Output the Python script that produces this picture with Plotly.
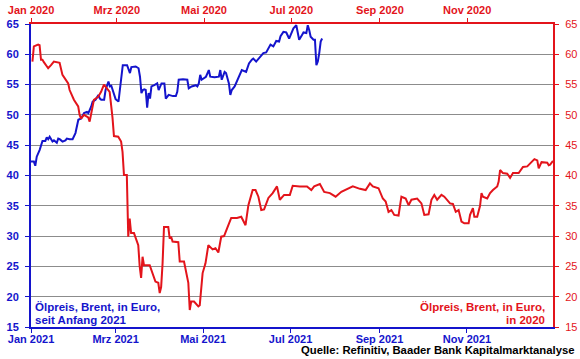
import plotly.graph_objects as go

# ---- Data: Brent in Euro, 2020 (red, top/right axes) ----
dates_2020 = [
    "2020-01-02","2020-01-03","2020-01-06","2020-01-07","2020-01-08","2020-01-09","2020-01-10","2020-01-13",
    "2020-01-15","2020-01-17","2020-01-21","2020-01-23","2020-01-27","2020-01-28","2020-01-31","2020-02-03",
    "2020-02-04","2020-02-05","2020-02-07","2020-02-10","2020-02-11","2020-02-13","2020-02-14","2020-02-17",
    "2020-02-19","2020-02-21","2020-02-24","2020-02-25","2020-02-27","2020-02-28","2020-03-02","2020-03-04",
    "2020-03-05","2020-03-06","2020-03-08","2020-03-09","2020-03-10","2020-03-11","2020-03-13","2020-03-14",
    "2020-03-16","2020-03-17","2020-03-18","2020-03-19","2020-03-20","2020-03-24","2020-03-28","2020-03-30",
    "2020-03-31","2020-04-01","2020-04-02","2020-04-03","2020-04-06","2020-04-07","2020-04-08","2020-04-09",
    "2020-04-13","2020-04-14","2020-04-17","2020-04-20","2020-04-21","2020-04-22","2020-04-24","2020-04-27",
    "2020-04-28","2020-04-30","2020-05-02","2020-05-04","2020-05-07","2020-05-09","2020-05-11","2020-05-13",
    "2020-05-15","2020-05-18","2020-05-20","2020-05-24","2020-05-27","2020-05-30","2020-06-01","2020-06-04",
    "2020-06-06","2020-06-08","2020-06-10","2020-06-12","2020-06-15","2020-06-18","2020-06-21","2020-06-23",
    "2020-06-26","2020-06-30","2020-07-02","2020-07-07","2020-07-12","2020-07-15","2020-07-17","2020-07-21",
    "2020-07-24","2020-07-28","2020-08-01","2020-08-05","2020-08-09","2020-08-13","2020-08-18","2020-08-22",
    "2020-08-25","2020-08-27","2020-08-31","2020-09-03","2020-09-05","2020-09-07","2020-09-09","2020-09-11",
    "2020-09-14","2020-09-16","2020-09-19","2020-09-21","2020-09-23","2020-09-27","2020-09-30","2020-10-02",
    "2020-10-05","2020-10-07","2020-10-09","2020-10-11","2020-10-14","2020-10-16","2020-10-20","2020-10-22",
    "2020-10-24","2020-10-26","2020-10-28","2020-10-30","2020-11-02","2020-11-03","2020-11-05","2020-11-06",
    "2020-11-08","2020-11-10","2020-11-11","2020-11-12","2020-11-15","2020-11-17","2020-11-19","2020-11-22",
    "2020-11-23","2020-11-24","2020-11-26","2020-11-29","2020-12-01","2020-12-03","2020-12-07","2020-12-10",
    "2020-12-13","2020-12-15","2020-12-18","2020-12-20","2020-12-21","2020-12-23","2020-12-27","2020-12-28",
    "2020-12-29","2020-12-31",
]
brent_2020 = [
    58.8, 61.3, 61.6, 61.5, 59.1, 59.1, 58.7, 57.7,
    58.2, 58.8, 58.6, 56.6, 55.2, 54.1, 52.5, 51.4,
    50.0, 49.4, 50.0, 49.6, 48.9, 51.4, 52.5, 53.0,
    53.8, 55.0, 54.1, 53.8, 49.5, 46.5, 46.4, 45.6,
    43.9, 40.1, 40.1, 29.9, 32.9, 30.5, 30.5, 29.9,
    28.5, 25.0, 23.1, 26.6, 25.2, 25.2, 22.5, 22.3,
    20.6, 21.6, 25.5, 31.5, 31.5, 29.6, 29.9, 29.1,
    29.0, 25.8, 25.8, 22.3, 17.8, 19.2, 19.2, 18.4,
    18.6, 23.9, 25.5, 28.5, 27.8, 28.0, 27.3, 29.9,
    30.0, 31.8, 33.0, 33.0, 33.2, 31.8, 35.1, 37.6,
    37.6, 36.5, 34.3, 34.4, 36.3, 37.1, 38.2, 36.0,
    36.8, 36.8, 38.3, 38.2, 38.2, 37.6, 38.2, 38.6,
    37.3, 37.1, 36.5, 37.3, 37.8, 38.2, 37.8, 37.6,
    38.7, 38.2, 37.9, 36.2, 35.7, 34.0, 34.3, 33.5,
    33.4, 36.5, 36.2, 35.1, 36.0, 36.2, 35.4, 33.5,
    33.6, 36.0, 36.8, 36.0, 36.8, 36.5, 35.4, 35.3,
    34.0, 34.3, 32.4, 32.1, 32.1, 33.5, 34.6, 33.2,
    33.2, 35.0, 37.1, 36.5, 36.2, 37.1, 37.6, 38.2,
    39.0, 40.9, 40.4, 40.3, 39.6, 40.4, 40.4, 41.4,
    41.5, 42.0, 42.7, 42.5, 41.2, 42.2, 42.1, 41.7,
    41.8, 42.4,
]

# ---- Data: Brent in Euro, since start of 2021 (blue, bottom/left axes) ----
dates_2021 = [
    "2021-01-01","2021-01-03","2021-01-04","2021-01-05","2021-01-07","2021-01-08","2021-01-09","2021-01-11",
    "2021-01-12","2021-01-13","2021-01-14","2021-01-16","2021-01-17","2021-01-19","2021-01-20","2021-01-21",
    "2021-01-23","2021-01-25","2021-01-26","2021-01-28","2021-01-30","2021-02-01","2021-02-02","2021-02-03",
    "2021-02-05","2021-02-07","2021-02-09","2021-02-10","2021-02-12","2021-02-13","2021-02-15","2021-02-17",
    "2021-02-18","2021-02-19","2021-02-21","2021-02-22","2021-02-24","2021-02-25","2021-02-26","2021-02-28",
    "2021-03-01","2021-03-03","2021-03-04","2021-03-05","2021-03-06","2021-03-09","2021-03-10","2021-03-11",
    "2021-03-12","2021-03-15","2021-03-17","2021-03-18","2021-03-19","2021-03-20","2021-03-21","2021-03-22",
    "2021-03-23","2021-03-24","2021-03-25","2021-03-26","2021-03-28","2021-03-30","2021-03-31","2021-04-02",
    "2021-04-04","2021-04-05","2021-04-07","2021-04-10","2021-04-12","2021-04-13","2021-04-14","2021-04-17",
    "2021-04-20","2021-04-21","2021-04-23","2021-04-26","2021-04-27","2021-04-28","2021-04-29","2021-04-30",
    "2021-05-03","2021-05-05","2021-05-06","2021-05-09","2021-05-12","2021-05-13","2021-05-14","2021-05-15",
    "2021-05-16","2021-05-17","2021-05-19","2021-05-20","2021-05-21","2021-05-23","2021-05-25","2021-05-27",
    "2021-05-28","2021-05-31","2021-06-02","2021-06-04","2021-06-05","2021-06-07","2021-06-09","2021-06-12",
    "2021-06-14","2021-06-16","2021-06-17","2021-06-19","2021-06-21","2021-06-23","2021-06-24","2021-06-26",
    "2021-06-28","2021-06-30","2021-07-01","2021-07-03","2021-07-05","2021-07-06","2021-07-07","2021-07-09",
    "2021-07-10","2021-07-12","2021-07-13","2021-07-14","2021-07-15","2021-07-17","2021-07-18","2021-07-19",
    "2021-07-20","2021-07-21","2021-07-22","2021-07-23",
]
brent_2021 = [
    42.3, 42.3, 41.6, 43.1, 44.2, 45.0, 45.7, 45.7,
    46.3, 46.0, 46.4, 45.6, 45.8, 45.4, 46.1, 46.0,
    45.6, 45.8, 46.1, 46.0, 46.0, 47.0, 48.3, 49.2,
    49.4, 50.3, 50.5, 50.3, 51.4, 52.2, 52.5, 53.3,
    52.7, 52.5, 52.5, 54.1, 55.5, 54.7, 54.8, 53.3,
    52.6, 52.2, 54.1, 56.9, 58.2, 58.2, 57.4, 56.9,
    57.9, 58.0, 57.7, 56.3, 53.6, 54.1, 54.2, 54.1,
    51.2, 53.6, 52.7, 54.7, 54.9, 55.2, 54.1, 55.2,
    55.2, 52.7, 53.3, 53.1, 53.1, 53.8, 55.8, 55.9,
    55.8, 54.4, 54.7, 54.9, 54.7, 55.2, 56.6, 55.8,
    56.3, 57.4, 56.3, 56.2, 56.3, 57.4, 55.8, 56.6,
    57.1, 56.9, 55.2, 53.3, 54.1, 54.7, 55.8, 56.6,
    57.4, 57.1, 58.5, 59.1, 59.3, 58.8, 59.3, 60.2,
    60.3, 61.2, 61.6, 61.3, 62.2, 62.1, 63.0, 63.7,
    63.6, 62.6, 63.2, 64.3, 64.8, 63.7, 62.4, 63.2,
    63.6, 63.5, 64.8, 64.0, 62.9, 62.4, 62.4, 58.2,
    58.8, 60.2, 62.1, 62.6,
]

# ---- Tick labels ----
ticks_2020 = ["2020-01-01", "2020-03-01", "2020-05-01", "2020-07-01", "2020-09-01", "2020-11-01"]
labels_2020 = ["Jan 2020", "Mrz 2020", "Mai 2020", "Jul 2020", "Sep 2020", "Nov 2020"]
ticks_2021 = ["2021-01-01", "2021-03-01", "2021-05-01", "2021-07-01", "2021-09-01", "2021-11-01"]
labels_2021 = ["Jan 2021", "Mrz 2021", "Mai 2021", "Jul 2021", "Sep 2021", "Nov 2021"]
y_ticks = [15, 20, 25, 30, 35, 40, 45, 50, 55, 60, 65]

BLUE = "#1414CC"
RED = "#E3141B"
FONT = "Liberation Sans"

fig = go.Figure()
fig.add_trace(go.Scatter(
    x=dates_2020, y=brent_2020, mode="lines", xaxis="x2", yaxis="y2",
    line=dict(color=RED, width=2), name="2020", showlegend=False,
))
fig.add_trace(go.Scatter(
    x=dates_2021, y=brent_2021, mode="lines", xaxis="x", yaxis="y",
    line=dict(color=BLUE, width=2), name="2021", showlegend=False,
))

fig.update_layout(
    template="none",
    width=580, height=359,
    margin=dict(l=31, r=27, t=24, b=32, autoexpand=False),
    paper_bgcolor="white", plot_bgcolor="white",
    font=dict(family=FONT),
    xaxis=dict(
        range=["2021-01-01", "2021-12-31"], tickvals=ticks_2021, ticktext=labels_2021,
        tickfont=dict(color=BLUE, size=11, family=FONT, weight="bold"),
        showline=True, linecolor=BLUE, linewidth=2, ticks="outside", ticklen=4,
        tickcolor=BLUE, showgrid=False, zeroline=False, automargin=False,
        ticklabelstandoff=-3,
    ),
    xaxis2=dict(
        range=["2020-01-01", "2020-12-31"], tickvals=ticks_2020, ticktext=labels_2020,
        overlaying="x", side="top", anchor="y",
        tickfont=dict(color=RED, size=11, family=FONT, weight="bold"),
        showline=True, linecolor=RED, linewidth=2, ticks="outside", ticklen=4,
        tickcolor=RED, showgrid=False, zeroline=False, automargin=False,
    ),
    yaxis=dict(
        range=[15, 65], tickvals=y_ticks,
        tickfont=dict(color=BLUE, size=11, family=FONT, weight="bold"),
        showline=True, linecolor=BLUE, linewidth=2, ticks="outside", ticklen=4,
        tickcolor=BLUE, showgrid=True, gridcolor="#8C8C8C", gridwidth=1, zeroline=False,
        automargin=False, ticklabelstandoff=4,
    ),
    yaxis2=dict(
        range=[15, 65], tickvals=y_ticks, overlaying="y", side="right", anchor="x",
        tickfont=dict(color=RED, size=11, family=FONT),
        showline=True, linecolor=RED, linewidth=2, ticks="outside", ticklen=4,
        tickcolor=RED, showgrid=False, zeroline=False, automargin=False,
        ticklabelstandoff=4,
    ),
)

ann_font_blue = dict(color=BLUE, size=11.5, family=FONT, weight="bold")
ann_font_red = dict(color=RED, size=11.5, family=FONT, weight="bold")
fig.add_annotation(text="Ölpreis, Brent, in Euro,", xref="paper", yref="y", x=0.004, y=18.35,
                   xanchor="left", yanchor="middle", showarrow=False, font=ann_font_blue)
fig.add_annotation(text="seit Anfang 2021", xref="paper", yref="y", x=0.004, y=16.15,
                   xanchor="left", yanchor="middle", showarrow=False, font=ann_font_blue)
fig.add_annotation(text="Ölpreis, Brent, in Euro,", xref="paper", yref="y", x=0.9885, y=18.35,
                   xanchor="right", yanchor="middle", showarrow=False, font=ann_font_red)
fig.add_annotation(text="in 2020", xref="paper", yref="y", x=0.9885, y=16.15,
                   xanchor="right", yanchor="middle", showarrow=False, font=ann_font_red)
fig.add_annotation(text="Quelle: Refinitiv, Baader Bank Kapitalmarktanalyse", xref="paper", yref="paper",
                   x=1.046, y=-0.076, xanchor="right", yanchor="middle", showarrow=False,
                   font=dict(color="black", size=11.3, family=FONT, weight="bold"))

fig.write_html("out.html", config={"displayModeBar": False},
               post_script="document.body.style.margin='0';")
